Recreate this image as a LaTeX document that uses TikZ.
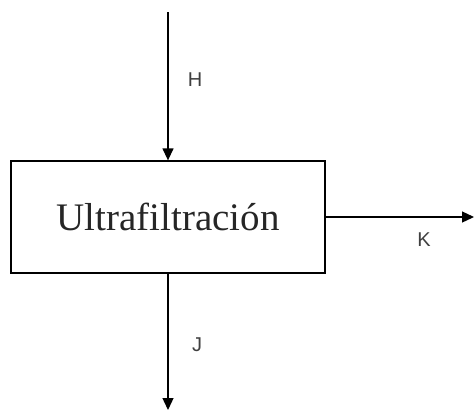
\documentclass[tikz,border=0pt]{standalone}
\usepackage{fontspec}
\setmainfont{Liberation Serif}
\newfontfamily\labfont{Liberation Sans}
\usetikzlibrary{arrows.meta}
\begin{document}
\begin{tikzpicture}[x=1pt,y=-1pt,
  flow/.style={line width=1.3pt,-{Triangle[length=12pt,width=11pt]}},
  procbox/.style={draw,line width=1.3pt,minimum width=314pt,minimum height=112pt,inner sep=0pt,font=\fontsize{39}{41}\selectfont,text=black!85},
  lab/.style={font=\labfont\fontsize{20}{22}\selectfont,text=black!75,inner sep=0pt}]
\useasboundingbox (0,0) rectangle (474,416);
\node[procbox] (box) at (168,217) {Ultrafiltración};
\coordinate (hin) at (168,12);
\coordinate (kout) at (474,217);
\coordinate (jout) at (168,410);
\draw[flow] (hin) -- (box.north);
\draw[flow] (box.east) -- (kout);
\draw[flow] (box.south) -- (jout);
\node[lab] (h) at (195,80) {H};
\node[lab] (k) at (424,240) {K};
\node[lab] (j) at (197,345) {J};
\end{tikzpicture}
\end{document}
